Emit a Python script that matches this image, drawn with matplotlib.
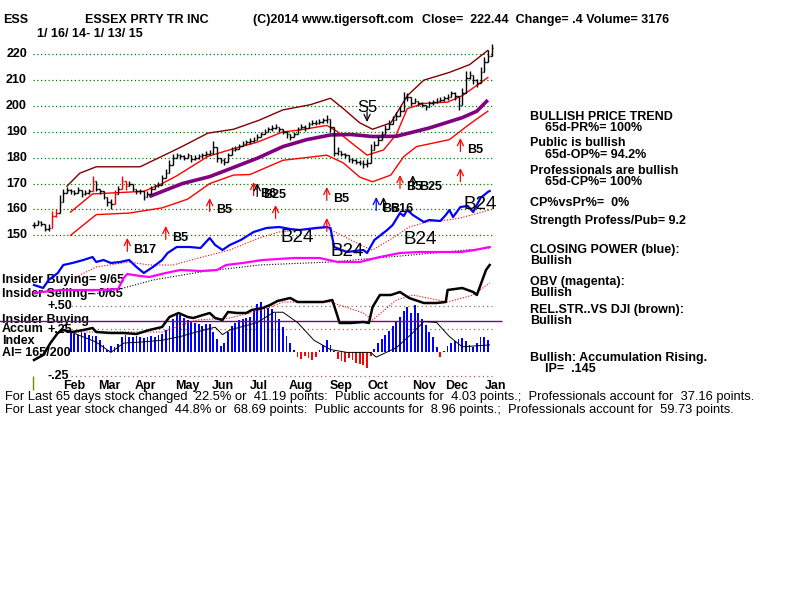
import numpy as np
import matplotlib
matplotlib.use("Agg")
import matplotlib.pyplot as plt
from matplotlib import transforms

plt.rcParams['font.family'] = ['Liberation Sans', 'DejaVu Sans']

# ---- values; x = trading days since 1/16/14 ----
# closes every 2nd trading day
close = [154, 155, 154.5, 152.5, 153, 157.5, 158.5, 163, 166.5, 167.5,
         167, 166.5, 167.5, 166, 166.5, 167, 171, 168, 167, 165,
         163, 162, 166, 168, 171, 169, 170, 168, 167, 167,
         165, 166, 168, 169, 169.5, 172, 174, 177, 180, 181,
         180.5, 180, 181, 179.5, 180, 180.5, 181, 181.5, 182, 184,
         180, 179, 178.5, 181, 183, 183.5, 184.5, 185.5, 186, 186.5,
         187, 188, 189, 190, 191, 191.5, 192, 191, 190, 189,
         188, 189, 191, 192, 191.5, 193, 193.5, 193.5, 194, 194.5,
         195, 192, 182, 182.5, 181.5, 181, 179.5, 179, 178.5, 178,
         177.5, 178, 183, 185, 187, 189, 191, 193, 194.5, 196,
         198, 203, 203.5, 201, 202, 201, 200.5, 199.5, 201, 201.5,
         202, 202.5, 203, 203.5, 205, 204, 200.5, 205, 211, 212,
         210, 209, 213, 217, 219.5, 222.4]
# high-low range of each bar
bar_rng = [2, 2, 2, 2, 3, 4, 3, 5, 3, 2,
           2, 2, 2, 2, 2, 2, 4, 2, 2, 2,
           3, 4, 3, 2, 4, 3, 2, 2, 2, 2,
           3, 2, 2, 2, 2, 3, 3, 4, 3, 2,
           2, 2, 2, 2, 2, 2, 2, 2, 2, 5,
           3, 2, 3, 2, 2, 2, 2, 2, 2, 2,
           2, 2, 2, 2, 2, 2, 2, 2, 2, 3,
           2, 2, 2, 2, 2, 2, 2, 2, 2, 2,
           3, 4, 3, 3, 2, 2, 2, 2, 2, 2,
           3, 3, 5, 3, 3, 3, 3, 3, 3, 3,
           4, 5, 3, 2, 2, 2, 2, 2, 2, 2,
           2, 2, 2, 2, 2, 3, 4, 4, 5, 3,
           3, 3, 4, 4, 4, 3]
red_bars = [5, 6, 16, 22, 24, 25]

# price bands
ub_days = [18, 25, 34, 58, 80, 95, 109, 123, 136, 151, 162, 169, 178, 185, 195, 204, 213, 227, 238, 248]
ub_vals = [169, 174, 176.5, 176.5, 184, 189.5, 191, 194.5, 198.5, 200.5, 203, 199, 193.5, 191, 193.5, 204, 210, 213, 216, 221.5]
mb_days = [20, 32, 60, 70, 78, 95, 109, 122, 136, 145, 160, 166, 173, 182, 191, 198, 204, 213, 226, 234, 241, 248]
mb_vals = [159, 166, 167, 170, 173, 180.5, 183.5, 186, 190, 190.7, 192.5, 190, 186, 181, 183, 189, 199, 201, 201.5, 204, 207.5, 211]
lb_days = [20, 34, 52, 70, 84, 96, 109, 118, 136, 160, 169, 178, 185, 195, 202, 209, 227, 238, 248]
lb_vals = [150, 158, 158.6, 160.6, 164, 170, 173.3, 173.5, 179, 181, 178, 172.5, 170.7, 173.3, 180.4, 184.3, 187, 193, 198]
ma65_days = [63, 81, 96, 103, 122, 136, 149, 162, 173, 185, 198, 216, 234, 242, 248]
ma65_vals = [165, 170, 172.7, 174.6, 179.8, 184.3, 187, 188.8, 189, 188.2, 188.3, 191.5, 195.5, 198, 202.3]

# buy / sell signals: day, price at arrow tip, label, colour
sig_days = [51, 72, 96, 120, 122, 132, 160, 160, 187, 191, 200, 207, 233, 233]
sig_tips = [149.0, 153.6, 164.4, 170.6, 170.2, 161.7, 168.7, 156.7, 164.8, 164.8, 173.3, 173.3, 187.6, 176.0]
sig_text = ['B17', 'B5', 'B5', 'B6', 'B25', '', 'B5', '', 'B6', 'B16', 'B5', 'B25', 'B5', '']
sig_cols = ['red', 'red', 'red', 'red', 'black', 'red', 'red', 'red', 'blue', 'black', 'red', 'black', 'red', 'red']
s5_day, s5_tip = 182, 193.8
b24_days = [144, 171, 211, 244]
b24_price = [149.0, 143.6, 148.2, 162.1]

# closing power (blue) and its average, index units
cp_days = [0, 5, 8, 13, 16, 21, 27, 32, 34, 38, 42, 47, 52, 56, 60, 65, 70, 73, 78, 85, 91, 96, 99, 103, 107,
           113, 120, 127, 134, 140, 145, 154, 160, 162, 164, 171, 180, 182, 186, 193, 196, 200, 202, 204, 207,
           213, 216, 222, 225, 227, 229, 233, 237, 240, 244, 248, 249]
cp_vals = [15, 12, 20, 27, 35, 37, 40, 43, 38, 40, 37, 38, 40, 33, 27, 33, 40, 47, 53, 53, 52, 62, 55, 50, 55,
           60, 68, 72, 73, 71, 70, 72, 73, 72, 53, 48, 50, 47, 60, 70, 75, 87, 84, 90, 85,
           78, 80, 79, 85, 90, 83, 93, 94, 88, 102, 108, 109]
cpma_days = [23, 34, 52, 63, 76, 92, 107, 123, 134, 160, 182, 185, 196, 205, 215, 226, 233, 249]
cpma_vals = [23, 33, 38, 35, 35, 43, 50, 62, 68, 72, 52, 50, 62, 73, 78, 80, 82, 90]

# on-balance volume (magenta) and its average
obv_days = [0, 14, 36, 46, 49, 51, 58, 63, 72, 80, 91, 100, 105, 114, 125, 142, 156, 166, 178, 189, 200, 211, 233, 241, 249]
obv_vals = [7, 10, 10, 11, 22, 26, 24, 23, 27, 30, 29, 30, 35, 37, 40, 42, 42, 38, 38, 43, 47, 48, 48, 50, 53]
obvma_days = [33, 47, 65, 91, 123, 162, 200, 249]
obvma_vals = [6, 11, 20, 28, 35, 38, 44, 52]

# relative strength (thick black) and its average
rs_days = [0, 5, 9, 13, 16, 21, 27, 32, 34, 42, 49, 56, 63, 70, 74, 79, 84, 87, 96, 99, 103, 106, 111, 116, 119,
           125, 129, 133, 140, 144, 151, 158, 163, 166, 167, 173, 180, 183, 185, 189, 195, 200, 205, 213, 220,
           225, 226, 234, 240, 242, 245, 247, 249]
rs_vals = [10, 15, 27, 37, 40, 38, 40, 42, 38, 37, 37, 36, 40, 43, 53, 57, 53, 52, 57, 52, 50, 58, 57, 57, 60,
           62, 65, 69, 72, 68, 68, 68, 70, 53, 47, 47, 48, 47, 63, 75, 75, 78, 72, 67, 67,
           68, 80, 82, 78, 75, 90, 100, 105]
rsma_days = [21, 70, 89, 107, 125, 136, 162, 180, 185, 198, 207, 226, 240, 249]
rsma_vals = [38, 38, 50, 52, 60, 68, 68, 57, 50, 70, 75, 68, 75, 87]

# accumulation index, every 2nd day from day 20
ai_vals = [.21, .20, .19, .22, .21, .19, .18, .18, .13, .08, .03, .07, .06, .09, .17, .19, .17, .16, .18, .17,
           .15, .16, .18, .17, .19, .20, .24, .28, .36, .42, .40, .37, .35, .34, .31, .30, .28, .30, .30, .22,
           .14, .07, .10, .22, .28, .31, .35, .36, .37, .38, .44, .52, .54, .50, .48, .46, .42, .36, .27, .18,
           .10, .03, -.05, -.07, -.04, -.06, -.08, -.05, .03, .08, .13, .08, .02, -.07, -.09, -.10, -.06, -.08, -.11, -.12,
           -.14, -.17, -.04, .04, .10, .14, .19, .23, .28, .33, .38, .44, .49, .42, .51, .42, .36, .29, .22, .17,
           .06, -.05, .02, .07, .10, .12, .14, .15, .12, .08, .06, .10, .16, .17, .13]
aima_days = [20, 34, 42, 49, 58, 70, 80, 89, 99, 103, 107, 122, 131, 136, 144, 153, 162, 171, 184, 187, 198, 207, 213, 220, 227, 234, 249]
aima_vals = [.22, .11, .00, .10, .11, .13, .17, .22, .27, .19, .24, .32, .43, .43, .32, .13, .03, .00, .00, -.05, .05, .21, .33, .32, .17, .06, .08]
insider_level = 0.34

price_ticks = [220, 210, 200, 190, 180, 170, 160, 150]
months = ['Feb', 'Mar', 'Apr', 'May', 'Jun', 'Jul', 'Aug', 'Sep', 'Oct', 'Nov', 'Dec', 'Jan']
month_days = [22, 41, 61, 84, 103, 123, 146, 168, 188, 213, 231, 252]

# ---- layout: every layer covers the whole 800x600 canvas ----
W, H = 800, 600
X0, XS = 34, 1.83          # pixel of day 0, pixels per day
XL = ((0 - X0) / XS, (W - X0) / XS)


def ylim_from(v1, p1, v2, p2):
    s = (v2 - v1) / (p2 - p1)
    return v1 + (H - p1) * s, v1 - p1 * s


fig = plt.figure(figsize=(8, 6), dpi=100)
fig.patch.set_facecolor('white')


def layer(ylim):
    a = fig.add_axes([0, 0, 1, 1])
    a.set_xlim(XL)
    a.set_ylim(ylim)
    a.axis('off')
    return a


ax_t = fig.add_axes([0, 0, 1, 1])
ax_t.set_xlim(0, W)
ax_t.set_ylim(H, 0)
ax_t.axis('off')
ax_ai = layer(ylim_from(0.5, 305.7, 0.0, 352.4))
ax_rs = layer(ylim_from(0, 370, 100, 270))
ax_ind = layer(ylim_from(0, 300, 100, 200))
ax_p = layer(ylim_from(220, 54.3, 150, 235.3))

B = dict(fontweight='bold', fontsize=9)
ARROW = '->,head_length=0.45,head_width=0.22'

# header
ax_t.text(3, 20, 'ESS', va='center', **B)
ax_t.text(85, 20, 'ESSEX PRTY TR INC', va='center', **B)
ax_t.text(253, 20, '(C)2014 www.tigersoft.com', va='center', **B)
ax_t.text(422, 20, 'Close=  222.44  Change= .4 Volume= 3176', va='center', **B)
ax_t.text(37, 34, '1/ 16/ 14- 1/ 13/ 15', va='center', **B)

# price grid and labels
ax_p.hlines(price_ticks, -0.5, 250, colors='#008000', lw=0.9, linestyles=(0, (1, 2)), zorder=1)
yt = transforms.blended_transform_factory(ax_p.transAxes, ax_p.transData)
for v in price_ticks:
    ax_p.text(27 / W, v, str(v), transform=yt, ha='right', va='center', **B)

# bands
ax_p.plot(ub_days, ub_vals, color='#800000', lw=1, zorder=2)
ax_p.plot(mb_days, mb_vals, color='#ff0000', lw=1, zorder=2)
ax_p.plot(lb_days, lb_vals, color='#ff0000', lw=1, zorder=2)
ax_p.plot(ma65_days, ma65_vals, color='#800080', lw=2.6, zorder=2, solid_capstyle='butt')

# price bars
c = np.array(close)
r = np.array(bar_rng)
bd = np.arange(len(c)) * 2
prev = np.r_[c[0], c[:-1]]
hi = np.maximum(c + r / 2, prev)
lo = np.minimum(c - r / 2, prev)
cols = ['red' if k in red_bars else 'black' for k in range(len(c))]
ax_p.vlines(bd, lo, hi, colors=cols, lw=1, zorder=3)
ax_p.hlines(c, bd, bd + 0.9, colors=cols, lw=1, zorder=3)
ax_p.hlines(prev, bd - 0.9, bd, colors=cols, lw=1, zorder=3)

# signals
for d, tip, lab, col in zip(sig_days, sig_tips, sig_text, sig_cols):
    ax_p.annotate('', xy=(d, tip), xytext=(d, tip - 5.2),
                  arrowprops=dict(arrowstyle=ARROW, color=col, lw=0.9, shrinkA=0, shrinkB=0),
                  zorder=4)
    if lab:
        ax_p.annotate(lab, xy=(d, tip), xytext=(4.5, -8.5), textcoords='offset points',
                      va='center', ha='left', zorder=5, **B)
ax_p.annotate('', xy=(s5_day, s5_tip), xytext=(s5_day, s5_tip + 4),
              arrowprops=dict(arrowstyle=ARROW, color='black', lw=0.9, shrinkA=0, shrinkB=0))
ax_p.text(s5_day, s5_tip + 5.8, 'S5', ha='center', va='center', fontsize=12)
for d, p in zip(b24_days, b24_price):
    ax_p.text(d, p, 'B24', ha='center', va='center', fontsize=13.5, zorder=6)

# closing power and OBV
ax_ind.plot(cpma_days, cpma_vals, color='#ff0000', lw=0.8, ls=(0, (1, 1.5)))
ax_ind.plot(obvma_days, obvma_vals, color='black', lw=0.8, ls=(0, (1, 1.5)))
ax_ind.plot(obv_days, obv_vals, color='#ff00ff', lw=1.6)
ax_ind.plot(cp_days, cp_vals, color='#0000ff', lw=1.6)

# accumulation index
ai_days = 20 + 2 * np.arange(len(ai_vals))
ai = np.array(ai_vals)
ax_ai.bar(ai_days, ai, width=1.0, color=np.where(ai >= 0, '#0000ff', '#ff0000'), zorder=2)
ax_ai.hlines([0.5, 0.25, -0.25], 20, 250, colors='#a06060', lw=0.9, linestyles=(0, (1, 2.5)), zorder=1)
ax_ai.hlines(insider_level, -19, 256, colors='#800080', lw=1.0, zorder=3)
ax_ai.plot(aima_days, aima_vals, color='black', lw=0.7, zorder=4)

# relative strength
ax_rs.plot(rsma_days, rsma_vals, color='#ff0000', lw=0.8, ls=(0, (1, 1.5)))
ax_rs.plot(rs_days, rs_vals, color='black', lw=1.8)

# left labels of lower panel
for px, py, s in [(2, 280.5, 'Insider Buying= 9/65'), (2, 293.5, 'Insider Selling= 0/65'),
                  (48, 306, '+.50'), (2, 320.5, 'Insider Buying'), (2, 328.5, 'Accum'),
                  (48, 330, '+.25'), (2, 340.5, 'Index'), (2, 352.5, 'AI= 165/200'), (48, 376, '-.25')]:
    ax_t.text(px, py, s, va='center', **B)

# month labels
mt = transforms.blended_transform_factory(ax_p.transData, ax_p.transAxes)
for m, d in zip(months, month_days):
    ax_p.text(d, 1 - 386 / H, m, transform=mt, ha='center', va='center', **B)
ax_t.vlines(33, 376, 390, colors='#808000', lw=1)

# bottom summary lines
ax_t.text(5, 397, 'For Last 65 days stock changed  22.5% or  41.19 points:  Public accounts for  4.03 points.;  '
          'Professionals account for  37.16 points.', va='center', fontsize=9.3)
ax_t.text(5, 409.5, 'For Last year stock changed  44.8% or  68.69 points:  Public accounts for  8.96 points.;  '
          'Professionals account for  59.73 points.', va='center', fontsize=9.3)

# right hand panel
for px, py, s in [(530, 116.5, 'BULLISH PRICE TREND'), (545, 128, '65d-PR%= 100%'),
                  (530, 143.5, 'Public is bullish'), (545, 155, '65d-OP%= 94.2%'),
                  (530, 171, 'Professionals are bullish'), (545, 182, '65d-CP%= 100%'),
                  (530, 202.5, 'CP%vsPr%=  0%'), (530, 221, 'Strength Profess/Pub= 9.2'),
                  (530, 249.5, 'CLOSING POWER (blue):'), (530, 261, 'Bullish'),
                  (530, 281.5, 'OBV (magenta):'), (530, 292.5, 'Bullish'),
                  (530, 310, 'REL.STR..VS DJI (brown):'), (530, 321.5, 'Bullish'),
                  (530, 358, 'Bullish: Accumulation Rising.'), (545, 369, 'IP=  .145')]:
    ax_t.text(px, py, s, va='center', **B)

fig.savefig('out.png', dpi=100, facecolor='white')
